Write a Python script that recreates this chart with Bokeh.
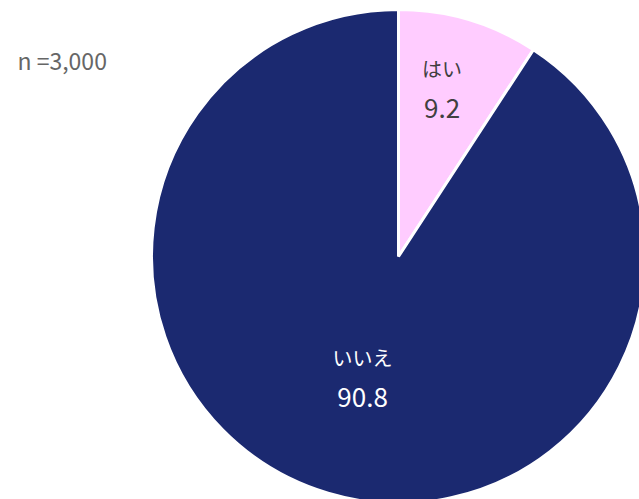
import math
from bokeh.plotting import figure
from bokeh.models import Range1d, ColumnDataSource
from bokeh.core.properties import value
from bokeh.embed import file_html
from bokeh.resources import INLINE

# data
categories = ["はい", "いいえ"]
shares = [9.2, 90.8]
colors = ["#FFCCFF", "#1B2970"]
label_colors = ["#404040", "#FFFFFF"]
sample_note = "n =3,000"

W, H = 639, 499
p = figure(width=W, height=H, output_backend="svg", toolbar_location=None,
           x_range=Range1d(0, W), y_range=Range1d(0, H), min_border=0)
p.axis.visible = False
p.grid.visible = False
p.outline_line_color = None
p.background_fill_color = "white"

cx, cy, r = 398, 243, 247
total = sum(shares)
starts, ends, mids = [], [], []
acc = 0.0
for s in shares:
    a0 = math.pi / 2 - 2 * math.pi * (acc + s) / total
    a1 = math.pi / 2 - 2 * math.pi * acc / total
    starts.append(a0)
    ends.append(a1)
    mids.append((a0 + a1) / 2)
    acc += s

src = ColumnDataSource(dict(start=starts, end=ends, color=colors))
p.wedge(x=cx, y=cy, radius=r, start_angle="start", end_angle="end",
        fill_color="color", line_color="white", line_width=3, source=src)

label_r = [0.69, 0.51]
lx = [cx + fr * r * math.cos(m) for fr, m in zip(label_r, mids)]
ly = [cy + fr * r * math.sin(m) for fr, m in zip(label_r, mids)]
lx[0] -= 5
ly[0] += 5
vals = [f"{v:.1f}" for v in shares]
lsrc = ColumnDataSource(dict(x=lx, y=ly, cat=categories, val=vals, col=label_colors))
p.text(x="x", y="y", text="cat", source=lsrc, text_color="col",
       text_font=value("Noto Sans CJK JP"), text_font_size="20px",
       text_align="center", text_baseline="middle", y_offset=-20)
p.text(x="x", y="y", text="val", source=lsrc, text_color="col",
       text_font=value("Noto Sans CJK JP"), text_font_size="26px",
       text_align="center", text_baseline="middle", y_offset=20)

p.text(x=[17], y=[H - 59], text=[sample_note], text_color="#666666",
       text_font=value("Noto Sans CJK JP"), text_font_size="23px",
       text_align="left", text_baseline="middle")

open("out.html", "w").write(file_html(p, INLINE))
